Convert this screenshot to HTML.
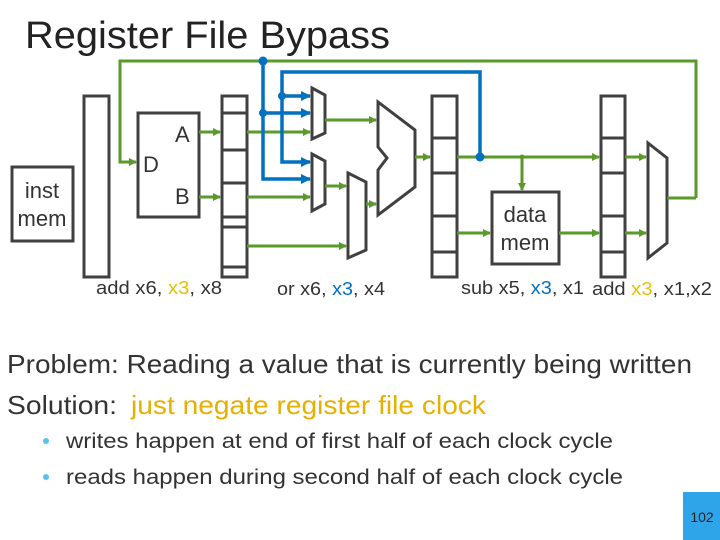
<!DOCTYPE html>
<html><head><meta charset="utf-8"><style>
html,body{margin:0;padding:0;background:#fff;}
body{width:720px;height:540px;overflow:hidden;position:relative;font-family:"Liberation Sans",sans-serif;}
</style></head><body>
<svg width="720" height="540" viewBox="0 0 720 540" xmlns="http://www.w3.org/2000/svg" style="position:absolute;left:0;top:0">
<defs>
<marker id="g" markerWidth="8" markerHeight="8" refX="7" refY="4" orient="auto" markerUnits="userSpaceOnUse"><path d="M0,0 L8,4 L0,8 z" fill="#5a9a2a"/></marker>
<marker id="b" markerWidth="10" markerHeight="10" refX="9" refY="5" orient="auto" markerUnits="userSpaceOnUse"><path d="M0,0 L10,5 L0,10 z" fill="#0070c0"/></marker>
</defs>
<text x="25" y="48" font-size="38" fill="#222" textLength="365" lengthAdjust="spacingAndGlyphs">Register File Bypass</text>
<g fill="none" stroke="#404040" stroke-width="3">
<rect x="12" y="167" width="61" height="74"/>
<rect x="84" y="96" width="25" height="181"/>
<rect x="138" y="113" width="61" height="104"/>
<rect x="222" y="96" width="25" height="181"/>
<path d="M222,113H247M222,150H247M222,183H247M222,217H247M222,227H247M222,267H247"/>
<rect x="432" y="96" width="25" height="181"/>
<path d="M432,138H457M432,173H457M432,216H457M432,252H457"/>
<rect x="601" y="96" width="24" height="181"/>
<path d="M601,138H625M601,173H625M601,216H625M601,252H625"/>
<rect x="492" y="192" width="67" height="72"/>
<path d="M312,88L325,95L325,133L312,139Z"/>
<path d="M312,154L325,161L325,204L312,211Z"/>
<path d="M348,173L366,182L366,250L348,258Z"/>
<path d="M378,102L415,130L415,187L378,215L378,170L387,158L378,147Z"/>
<path d="M648,143L667,158L667,243L648,258Z"/>
</g>
<g fill="none" stroke="#5a9a2a" stroke-width="3">
<path d="M696,198H667M696,198V61H120V162H136" marker-end="url(#g)"/>
<path d="M199,132H220" marker-end="url(#g)"/>
<path d="M247,132H310" marker-end="url(#g)"/>
<path d="M199,197H220" marker-end="url(#g)"/>
<path d="M247,197H310" marker-end="url(#g)"/>
<path d="M325,120H376" marker-end="url(#g)"/>
<path d="M325,186H346" marker-end="url(#g)"/>
<path d="M247,246H346" marker-end="url(#g)"/>
<path d="M366,204H376" marker-end="url(#g)"/>
<path d="M415,157H430" marker-end="url(#g)"/>
<path d="M457,157H599" marker-end="url(#g)"/>
<path d="M522,157V190" marker-end="url(#g)"/>
<path d="M457,233H490" marker-end="url(#g)"/>
<path d="M559,233H599" marker-end="url(#g)"/>
<path d="M625,157H646" marker-end="url(#g)"/>
<path d="M625,233H646" marker-end="url(#g)"/>
</g>
<circle cx="522" cy="157" r="2.5" fill="#5a9a2a"/>
<g fill="none" stroke="#0070c0" stroke-width="3.5">
<path d="M263,61V179H310" marker-end="url(#b)"/>
<path d="M263,113H310" marker-end="url(#b)"/>
<path d="M480,157V72H282V162H310" marker-end="url(#b)"/>
<path d="M282,96H310" marker-end="url(#b)"/>
</g>
<g fill="#0070c0"><circle cx="263" cy="61" r="4.5"/><circle cx="263" cy="113" r="4"/><circle cx="282" cy="96" r="4"/><circle cx="480" cy="157" r="4.5"/></g>
<g font-size="22" fill="#333">
<text x="42" y="198" text-anchor="middle">inst</text>
<text x="42" y="226" text-anchor="middle">mem</text>
<text x="175" y="142">A</text>
<text x="143" y="172">D</text>
<text x="175" y="204">B</text>
<text x="525" y="222" text-anchor="middle">data</text>
<text x="525" y="250" text-anchor="middle">mem</text>
</g>
<g font-size="18" fill="#333">
<text x="96" y="294" textLength="126" lengthAdjust="spacingAndGlyphs">add x6, <tspan fill="#e8c000">x3</tspan>, x8</text>
<text x="277" y="295" textLength="108" lengthAdjust="spacingAndGlyphs">or x6, <tspan fill="#0070c0">x3</tspan>, x4</text>
<text x="461" y="294" textLength="123" lengthAdjust="spacingAndGlyphs">sub x5, <tspan fill="#0070c0">x3</tspan>, x1</text>
<text x="592" y="295" textLength="120" lengthAdjust="spacingAndGlyphs">add <tspan fill="#e8c000">x3</tspan>, x1,x2</text>
</g>
<text x="7" y="373" font-size="26" fill="#333" textLength="685" lengthAdjust="spacingAndGlyphs">Problem: Reading a value that is currently being written</text>
<text x="7" y="414" font-size="26" fill="#333" textLength="110" lengthAdjust="spacingAndGlyphs">Solution:</text>
<text x="131" y="414" font-size="26" fill="#e6b000" textLength="355" lengthAdjust="spacingAndGlyphs">just negate register file clock</text>
<circle cx="46" cy="441" r="3" fill="#5bc0eb"/>
<circle cx="46" cy="477" r="3" fill="#5bc0eb"/>
<text x="66" y="448" font-size="21" fill="#333" textLength="547" lengthAdjust="spacingAndGlyphs">writes happen at end of first half of each clock cycle</text>
<text x="66" y="484" font-size="21" fill="#333" textLength="557" lengthAdjust="spacingAndGlyphs">reads happen during second half of each clock cycle</text>
<rect x="683" y="492" width="37" height="48" fill="#2ea5e8"/>
<text x="702" y="522" font-size="14" fill="#222" text-anchor="middle">102</text>
</svg>
</body></html>
